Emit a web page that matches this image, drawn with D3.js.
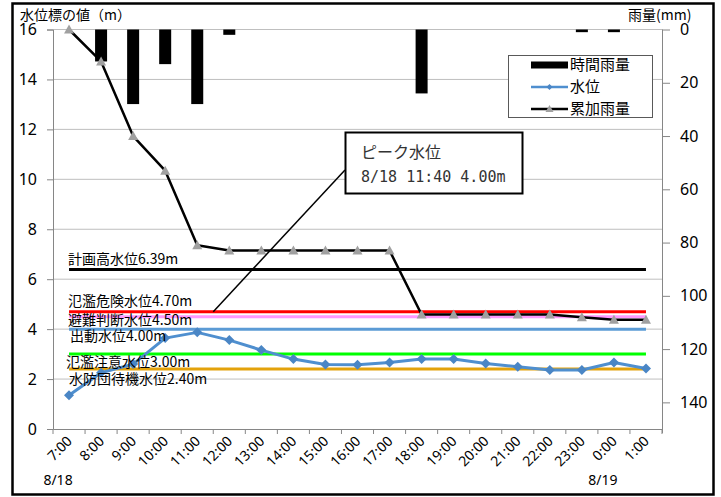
<!DOCTYPE html>
<html><head><meta charset="utf-8">
<script src="https://cdn.jsdelivr.net/npm/d3@7"></script>
<style>body{margin:0;background:#fff} svg{display:block}</style>
</head><body><svg id="c" width="721" height="497"></svg>
<script>
const categories = ["7:00","8:00","9:00","10:00","11:00","12:00","13:00","14:00","15:00","16:00","17:00","18:00","19:00","20:00","21:00","22:00","23:00","0:00","1:00"];
const hourlyRain = [0,12,28,13,28,2,0,0,0,0,0,24,0,0,0,0,1,1,0];
const cumulativeRain = [0,12,40,53,81,83,83,83,83,83,83,107,107,107,107,107,108,109,109];
const waterLevel = [1.35,2.25,2.6,3.64,3.87,3.56,3.16,2.8,2.58,2.57,2.66,2.8,2.8,2.62,2.49,2.36,2.36,2.66,2.42];
const thresholdNames = ["計画高水位6.39m","氾濫危険水位4.70m","避難判断水位4.50m","出動水位4.00m","氾濫注意水位3.00m","水防団待機水位2.40m"];
const thresholdValues = [6.39,4.70,4.50,4.00,3.00,2.40];
const leftTicks = [0,2,4,6,8,10,12,14,16];
const rightTicks = [0,20,40,60,80,100,120,140];
const dateLabels = [{cat:"7:00",text:"8/18"},{cat:"0:00",text:"8/19"}];
const legendNames = ["時間雨量","水位","累加雨量"];
const peakTitle = "ピーク水位";
const peakText = "8/18 11:40 4.00m";

const thresholdColors = ["#000000","#ff0000","#ff99ff","#5b9bd5","#00ff00","#e3a20b"];
const thresholdLabelDy = [-5,-6,8,12,13,15];
const thresholdLabelDx = [0,0,0,2,-2,1];

const svg = d3.select("#c");
const L = 53, R = 662, T = 29.5, B = 429;
const FONT = "'Noto Sans','Noto Sans CJK JP',sans-serif";
const JFONT = "'Noto Sans CJK JP','Noto Sans',sans-serif";

const x = d3.scaleBand().domain(categories).range([L, R]).padding(0);
const cx = c => x(c) + x.bandwidth()/2;
const yL = d3.scaleLinear().domain([0,16]).range([B, T]);
const yR = d3.scaleLinear().domain([0,150]).range([T, B]);

// frame
svg.append("rect").attr("x",12.5).attr("y",3.5).attr("width",701).attr("height",491)
  .attr("fill","#fff").attr("stroke","#000").attr("stroke-width",2.5);

// gridlines
svg.append("g").selectAll("line").data(leftTicks.filter(d=>d>0)).join("line")
  .attr("x1",L).attr("x2",R).attr("y1",d=>yL(d)).attr("y2",d=>yL(d))
  .attr("stroke","#bfbfbf").attr("stroke-width",1);

// axes
const gL = svg.append("g").attr("transform",`translate(${L},0)`)
  .call(d3.axisLeft(yL).tickValues(leftTicks).tickSize(6).tickPadding(10));
const gR = svg.append("g").attr("transform",`translate(${R},0)`)
  .call(d3.axisRight(yR).tickValues(rightTicks).tickSize(8).tickPadding(10));
const gX = svg.append("g").attr("transform",`translate(0,${B})`)
  .call(d3.axisBottom(x).tickSize(0).tickFormat(""));
[gL,gR,gX].forEach(g=>{
  g.selectAll("path").attr("stroke","#868686").attr("stroke-width",1);
  g.selectAll("line").attr("stroke","#868686");
  g.selectAll("text").attr("font-family",FONT).attr("font-size",16).attr("fill","#000");
});
gR.select("path").attr("d",`M0.5,${T}V${B+4}`);
// category boundary ticks
svg.append("g").selectAll("line").data(categories.concat(["_end"])).join("line")
  .attr("x1",(d,i)=>L + i*x.bandwidth()).attr("x2",(d,i)=>L + i*x.bandwidth())
  .attr("y1",B).attr("y2",B+5).attr("stroke","#868686");

// x labels
svg.append("g").selectAll("text").data(categories).join("text")
  .attr("transform",d=>`translate(${cx(d)+4},${B+13}) rotate(-45)`)
  .attr("text-anchor","end").attr("font-family",FONT).attr("font-size",14).text(d=>d);
svg.append("g").selectAll("text").data(dateLabels).join("text")
  .attr("x",d=>cx(d.cat)-11).attr("y",485).attr("text-anchor","middle")
  .attr("font-family",FONT).attr("font-size",14).text(d=>d.text);

// axis titles
svg.append("text").attr("x",20).attr("y",20).attr("font-family",JFONT).attr("font-size",14).text("水位標の値（m）");
svg.append("text").attr("x",628).attr("y",20).attr("font-family",JFONT).attr("font-size",14).text("雨量(mm)");

// hourly rain bars
const bw = 12;
svg.append("g").selectAll("rect").data(categories).join("rect")
  .attr("x",d=>cx(d)-bw/2).attr("width",bw)
  .attr("y",yR(0)).attr("height",(d,i)=>yR(hourlyRain[i])-yR(0))
  .attr("fill","#000");

// thresholds
svg.append("g").selectAll("line").data(thresholdValues).join("line")
  .attr("x1",cx(categories[0])).attr("x2",cx(categories[categories.length-1]))
  .attr("y1",d=>yL(d)).attr("y2",d=>yL(d))
  .attr("stroke",(d,i)=>thresholdColors[i]).attr("stroke-width",3);

// water level line
const wl = d3.line().x((d,i)=>cx(categories[i])).y(d=>yL(d));
svg.append("path").datum(waterLevel).attr("d",wl).attr("fill","none")
  .attr("stroke","#4f8fcf").attr("stroke-width",3).attr("stroke-linejoin","round");
svg.append("g").selectAll("path").data(waterLevel).join("path")
  .attr("transform",(d,i)=>`translate(${cx(categories[i])},${yL(d)})`)
  .attr("d","M0,-5L5,0L0,5L-5,0Z").attr("fill","#4a86c5");

// cumulative rain line
const cl = d3.line().x((d,i)=>cx(categories[i])).y(d=>yR(d));
svg.append("path").datum(cumulativeRain).attr("d",cl).attr("fill","none")
  .attr("stroke","#000").attr("stroke-width",2.5).attr("stroke-linejoin","round");
svg.append("g").selectAll("path").data(cumulativeRain).join("path")
  .attr("transform",(d,i)=>`translate(${cx(categories[i])},${yR(d)})`)
  .attr("d","M0,-5L5,4L-5,4Z").attr("fill","#a0a0a0");

// threshold labels
svg.append("g").selectAll("text").data(thresholdNames).join("text")
  .attr("x",(d,i)=>cx(categories[0])-1+thresholdLabelDx[i])
  .attr("y",(d,i)=>yL(thresholdValues[i])+thresholdLabelDy[i])
  .attr("font-family",JFONT).attr("font-size",14).attr("fill","#000").text(d=>d);

// legend
const lg = svg.append("g");
lg.append("rect").attr("x",508.5).attr("y",55.5).attr("width",144).attr("height",62)
  .attr("fill","#fff").attr("stroke","#595959").attr("stroke-width",1);
const ly = [65,87,109];
lg.append("rect").attr("x",531).attr("y",ly[0]-3.5).attr("width",37).attr("height",7).attr("fill","#000");
lg.append("line").attr("x1",531).attr("x2",568).attr("y1",ly[1]).attr("y2",ly[1]).attr("stroke","#4f8fcf").attr("stroke-width",2.5);
lg.append("path").attr("transform",`translate(549.5,${ly[1]})`).attr("d","M0,-3L3,0L0,3L-3,0Z").attr("fill","#4a86c5");
lg.append("line").attr("x1",531).attr("x2",568).attr("y1",ly[2]).attr("y2",ly[2]).attr("stroke","#000").attr("stroke-width",2.5);
lg.append("path").attr("transform",`translate(549.5,${ly[2]})`).attr("d","M0,-4L4,3L-4,3Z").attr("fill","#a0a0a0");
lg.selectAll("text").data(legendNames).join("text")
  .attr("x",570).attr("y",(d,i)=>ly[i]+5).attr("font-family",JFONT).attr("font-size",15).text(d=>d);

// peak annotation
const peakX = cx("11:00") + x.bandwidth()*0.5;
svg.append("line").attr("x1",peakX).attr("y1",yL(4.70)).attr("x2",345).attr("y2",170)
  .attr("stroke","#000").attr("stroke-width",1.5);
svg.append("rect").attr("x",345.5).attr("y",132.5).attr("width",177).attr("height",61)
  .attr("fill","#fff").attr("stroke","#000").attr("stroke-width",2);
svg.append("text").attr("x",361).attr("y",158).attr("font-family",JFONT).attr("font-size",16).attr("fill","#333").text(peakTitle);
svg.append("text").attr("x",361).attr("y",182).attr("font-family","'DejaVu Sans Mono','Liberation Mono',monospace").attr("font-size",15).attr("fill","#333").text(peakText);
</script></body></html>
